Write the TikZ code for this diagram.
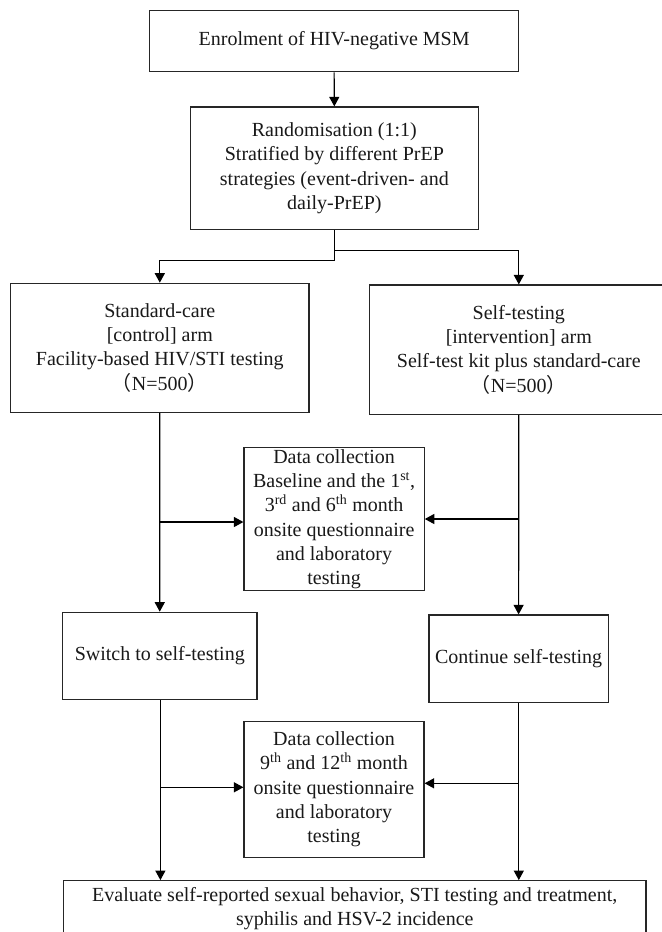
\documentclass[tikz,border=0pt]{standalone}
\usepackage{fontspec}
\setmainfont{Liberation Serif}
\newfontfamily\cjk{Noto Sans CJK SC}
\usetikzlibrary{arrows.meta}
\begin{document}
\begin{tikzpicture}[x=1bp,y=-1bp,
  box/.style={draw=black!85,line width=1.2bp,inner sep=0pt,align=center,
    font=\fontsize{20bp}{24.3bp}\selectfont,text=black!90},
  arr/.style={draw=black,line width=1.2bp,-{Triangle[length=9.5bp,width=10bp]}},
  ln/.style={draw=black,line width=1.2bp}]
\useasboundingbox[fill=white] (0,0) rectangle (662,932);
\node[box,minimum width=369.4bp,minimum height=61.4bp] (enrol) at (334.1,41) {Enrolment of HIV-negative MSM};
\node[box,minimum width=287.9bp,minimum height=122.7bp] (rand) at (334.35,168.35) {Randomisation (1:1)\\Stratified by different PrEP\\strategies (event-driven- and\\daily-PrEP)};
\node[box,minimum width=298.4bp,minimum height=129bp] (ctrl) at (159.8,347.8) {Standard-care\\{[}control{]} arm\\Facility-based HIV/STI testing\\{\cjk （}N=500{\cjk ）}};
\node[box,minimum width=298bp,minimum height=129.3bp] (int) at (518.8,349.65) {Self-testing\\{[}intervention{]} arm\\Self-test kit plus standard-care\\{\cjk （}N=500{\cjk ）}};
\node[box,minimum width=180.2bp,minimum height=143bp] (dc1) at (334.1,519.2) {Data collection\\Baseline and the 1\textsuperscript{st},\\3\textsuperscript{rd} and 6\textsuperscript{th} month\\onsite questionnaire\\and laboratory\\testing};
\node[box,minimum width=194.5bp,minimum height=87.4bp] (sw) at (159.75,656) {Switch to self-testing};
\node[box,minimum width=179.4bp,minimum height=87.3bp] (cont) at (518.6,658.65) {Continue self-testing};
\node[box,minimum width=180bp,minimum height=135.6bp] (dc2) at (334,789.5) {Data collection\\9\textsuperscript{th} and 12\textsuperscript{th} month\\onsite questionnaire\\and laboratory\\testing};
\node[box,minimum width=582.2bp,minimum height=56.3bp] (fin) at (354.8,908.85) {Evaluate self-reported sexual behavior, STI testing and treatment,\\syphilis and HSV-2 incidence};
% connectors
\draw[arr] (enrol.south) -- (rand.north);
\draw[arr] (rand.south) -- ++(0,30.3) -| (ctrl.north);
\draw[arr] (rand.south) ++(0,20.3) -| (int.north);
\draw[arr] (ctrl.south) -- (sw.north);
\draw[arr] (int.south) -- (cont.north);
\coordinate (l1) at (160,522);
\coordinate (r1) at (518.8,519);
\draw[arr] (l1) -- (l1 -| dc1.west);
\draw[arr] (r1) -- (r1 -| dc1.east);
\coordinate (l2) at (160.4,787.3);
\coordinate (r2) at (518.8,783.3);
\draw[arr] (l2) -- (l2 -| dc2.west);
\draw[arr] (r2) -- (r2 -| dc2.east);
\draw[arr] (sw.south -| l2) -- (l2 |- fin.north);
\draw[arr] (cont.south -| r2) -- (r2 |- fin.north);
\end{tikzpicture}
\end{document}
